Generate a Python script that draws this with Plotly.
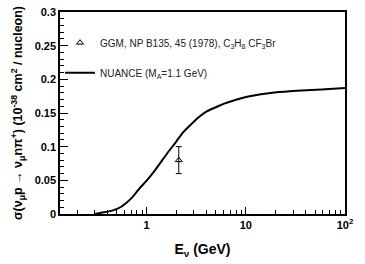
import plotly.graph_objects as go

# NUANCE curve (E in GeV, sigma in 1e-38 cm^2/nucleon)
curve_E = [0.30, 0.34, 0.45, 0.55, 0.72, 0.87, 0.98, 1.23, 1.63, 2.0, 2.32, 2.8, 3.3, 4.0, 5.26, 6.05, 9.0, 10.6, 19.5, 36.6, 58.0, 100.0]
curve_sigma = [0.0, 0.0015, 0.005, 0.0104, 0.025, 0.040, 0.048, 0.066, 0.091, 0.108, 0.121, 0.133, 0.143, 0.152, 0.160, 0.164, 0.172, 0.1746, 0.1806, 0.1836, 0.185, 0.187]

# GGM data point
ggm_E = [2.11]
ggm_sigma = [0.08]
ggm_err = [0.02]

y_ticks = [0, 0.05, 0.1, 0.15, 0.2, 0.25, 0.3]
y_ticktext = ["0", "0.05", "0.1", "0.15", "0.2", "0.25", "0.3"]
x_ticks = [1, 10, 100]
x_ticktext = ["1", "10", "10<sup>2</sup>"]
x_minor = [m * 10 ** d for d in (-1, 0, 1) for m in range(2, 10)]

font_main = "Liberation Sans, Arial, sans-serif"

fig = go.Figure()
fig.add_trace(go.Scatter(
    x=ggm_E, y=ggm_sigma, mode="markers",
    marker=dict(symbol="triangle-up-open", size=6, color="black", line=dict(width=1)),
    error_y=dict(type="data", array=ggm_err, color="black", thickness=1, width=3),
    name="GGM, NP B135, 45 (1978), C<sub>3</sub>H<sub>8</sub> CF<sub>3</sub>Br",
    legendgroup="a",
))
fig.add_trace(go.Scatter(
    x=curve_E, y=curve_sigma, mode="lines",
    line=dict(color="black", width=2, shape="spline", smoothing=0.6),
    name="NUANCE (M<sub>A</sub>=1.1 GeV)", legendgroup="b",
))

fig.update_layout(
    width=365, height=264,
    margin=dict(l=60, r=20, t=12, b=50),
    paper_bgcolor="white", plot_bgcolor="white",
    font=dict(family=font_main, color="black", size=10),
    showlegend=True,
    legend=dict(x=0.0, y=0.92, xanchor="left", yanchor="top", bgcolor="rgba(0,0,0,0)",
                font=dict(size=10, color="#222"), itemwidth=30, tracegroupgap=11,
                traceorder="grouped"),
    xaxis=dict(
        type="log", range=[-0.873, 2.0], automargin=False,
        tickvals=x_ticks, ticktext=["<b>%s</b>" % t for t in x_ticktext],
        ticks="inside", ticklen=7, tickwidth=1, tickcolor="black",
        showline=True, linecolor="black", linewidth=1.5, mirror=True,
        showgrid=False, zeroline=False, ticklabeloverflow="allow",
        minor=dict(tickvals=x_minor, ticks="inside", ticklen=4, tickcolor="black", showgrid=False),
        tickfont=dict(size=11, family=font_main),
        title=dict(text="<b>E<sub>ν</sub> (GeV)</b>", font=dict(size=14), standoff=14),
    ),
    yaxis=dict(
        range=[0, 0.3], automargin=False,
        tickvals=y_ticks, ticktext=["<b>%s</b>" % t for t in y_ticktext],
        ticks="inside", ticklen=8, tickwidth=1, tickcolor="black",
        showline=True, linecolor="black", linewidth=1.5, mirror=True,
        showgrid=False, zeroline=False, ticklabeloverflow="allow",
        minor=dict(dtick=0.01, ticks="inside", ticklen=4, tickcolor="black", showgrid=False),
        tickfont=dict(size=11, family=font_main),
        title=dict(text="<b>σ(ν<sub>μ</sub>p → ν<sub>μ</sub>nπ<sup>+</sup>) (10<sup>-38</sup> cm<sup>2</sup> / nucleon)</b>",
                   font=dict(size=12.5), standoff=9),
    ),
)

fig.write_html("out.html", config={"displayModeBar": False},
               post_script="document.body.style.margin='0';")
